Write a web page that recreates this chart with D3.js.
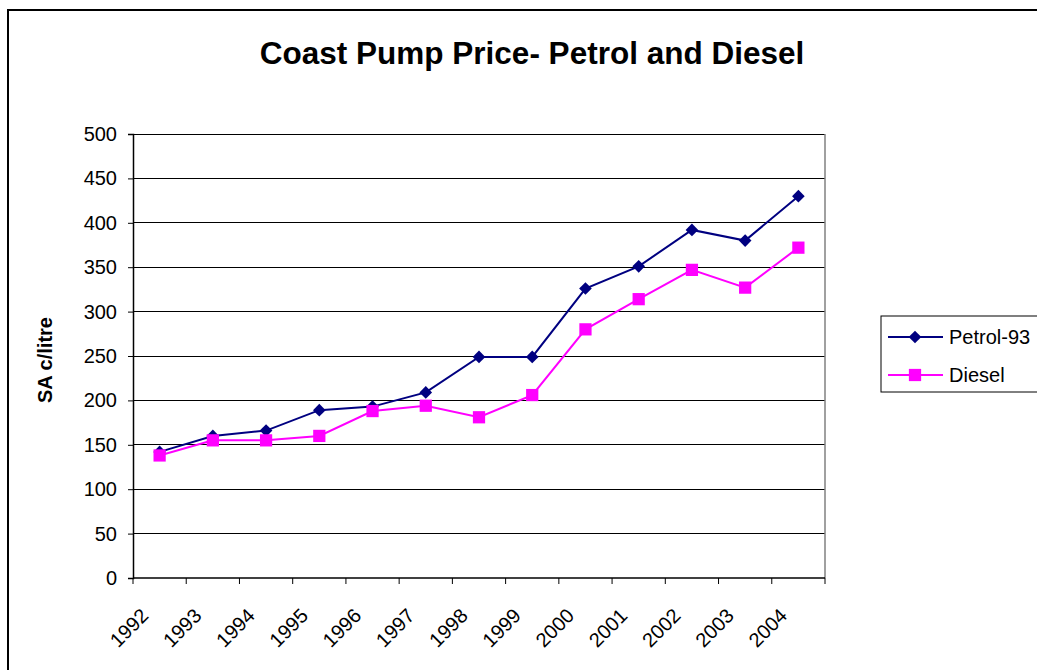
<!DOCTYPE html>
<html>
<head>
<meta charset="utf-8">
<script src="https://cdn.jsdelivr.net/npm/d3@7"></script>
<style>
  html, body { margin: 0; padding: 0; background: #fff; }
  svg { display: block; font-family: "Liberation Sans", Arial, sans-serif; }
</style>
</head>
<body>
<div id="chart"></div>
<script>
// Données
const years = ['1992', '1993', '1994', '1995', '1996', '1997', '1998', '1999', '2000', '2001', '2002', '2003', '2004'];
const petrol = [142, 160, 166, 189, 193, 209, 249, 249, 326, 351, 392, 380, 430];
const diesel = [138, 155, 155, 160, 188, 194, 181, 206, 280, 314, 347, 327, 372];
const yTicks = [0, 50, 100, 150, 200, 250, 300, 350, 400, 450, 500];
const seriesNames = ['Petrol-93', 'Diesel'];

const width = 1037, height = 670;
const plot = { left: 133, right: 825, top: 134, bottom: 578 };

const svg = d3.select('#chart').append('svg')
    .attr('width', width)
    .attr('height', height);

// Cadre extérieur
svg.append('rect')
    .attr('x', 8).attr('y', 10)
    .attr('width', 1200).attr('height', 800)
    .attr('fill', '#fff')
    .attr('stroke', '#000')
    .attr('stroke-width', 2);

// Titre
svg.append('text')
    .attr('x', 532).attr('y', 64)
    .attr('text-anchor', 'middle')
    .style('font-size', '31.5px')
    .style('font-weight', 'bold')
    .text('Coast Pump Price- Petrol and Diesel');

// Échelles
const x = d3.scaleBand().domain(years).range([plot.left, plot.right]);
const y = d3.scaleLinear().domain([0, 500]).range([plot.bottom, plot.top]);
const cx = d => x(d) + x.bandwidth() / 2;

// Lignes de grille
svg.append('g')
    .selectAll('line')
    .data(yTicks.filter(t => t > 0))
    .enter()
    .append('line')
    .attr('x1', plot.left).attr('x2', plot.right)
    .attr('y1', d => y(d)).attr('y2', d => y(d))
    .attr('stroke', '#000')
    .attr('stroke-width', 1)
    .attr('shape-rendering', 'crispEdges');

// Bord droit de la zone de tracé
svg.append('line')
    .attr('x1', plot.right).attr('x2', plot.right)
    .attr('y1', plot.top).attr('y2', plot.bottom)
    .attr('stroke', '#808080')
    .attr('stroke-width', 1.5);

// Axe Y
const yAxis = svg.append('g')
    .attr('transform', `translate(${plot.left},0)`)
    .call(d3.axisLeft(y).tickValues(yTicks).tickSize(5).tickPadding(11));
yAxis.select('.domain').attr('stroke', '#000').attr('stroke-width', 1.5);
yAxis.selectAll('.tick line').attr('stroke', '#000');
yAxis.selectAll('.tick text')
    .attr('fill', '#000')
    .style('font-size', '20px')
    .style('font-family', '"Liberation Sans", Arial, sans-serif');

// Axe X (graduations aux limites des catégories)
const xAxis = svg.append('g')
    .attr('transform', `translate(0,${plot.bottom})`);
xAxis.append('line')
    .attr('x1', plot.left).attr('x2', plot.right)
    .attr('y1', 0).attr('y2', 0)
    .attr('stroke', '#000').attr('stroke-width', 1.5);
const bounds = years.map(d => x(d)).concat([plot.right]);
xAxis.selectAll('line.tick')
    .data(bounds)
    .enter()
    .append('line')
    .attr('class', 'tick')
    .attr('x1', d => d).attr('x2', d => d)
    .attr('y1', 0).attr('y2', 6)
    .attr('stroke', '#000');
xAxis.selectAll('text')
    .data(years)
    .enter()
    .append('text')
    .attr('transform', d => `translate(${cx(d) - 10},39) rotate(-45)`)
    .attr('text-anchor', 'end')
    .style('font-size', '20px')
    .text(d => d);

// Titre de l'axe Y
svg.append('text')
    .attr('transform', `translate(52,360) rotate(-90)`)
    .attr('text-anchor', 'middle')
    .style('font-size', '20px')
    .style('font-weight', 'bold')
    .text('SA c/litre');

// Séries (losange = carré tourné de 45°)
const series = [
    { name: seriesNames[0], values: petrol, color: '#000080', shape: d3.symbolSquare, size: 80, rot: 45 },
    { name: seriesNames[1], values: diesel, color: '#FF00FF', shape: d3.symbolSquare, size: 150, rot: 0 }
];

const line = d3.line()
    .x((d, i) => cx(years[i]))
    .y(d => y(d));

series.forEach(s => {
    svg.append('path')
        .datum(s.values)
        .attr('d', line)
        .attr('fill', 'none')
        .attr('stroke', s.color)
        .attr('stroke-width', 2);

    svg.append('g')
        .selectAll('path')
        .data(s.values)
        .enter()
        .append('path')
        .attr('d', d3.symbol().type(s.shape).size(s.size))
        .attr('transform', (d, i) => `translate(${cx(years[i])},${y(d)}) rotate(${s.rot})`)
        .attr('fill', s.color);
});

// Légende
const legend = svg.append('g');
legend.append('rect')
    .attr('x', 881).attr('y', 316)
    .attr('width', 200).attr('height', 76)
    .attr('fill', '#fff')
    .attr('stroke', '#000')
    .attr('stroke-width', 1);

const items = legend.selectAll('g.item')
    .data(series)
    .enter()
    .append('g')
    .attr('class', 'item')
    .attr('transform', (d, i) => `translate(0,${337 + i * 38})`);
items.append('line')
    .attr('x1', 888).attr('x2', 943)
    .attr('y1', 0).attr('y2', 0)
    .attr('stroke', d => d.color)
    .attr('stroke-width', 2);
items.append('path')
    .attr('d', d => d3.symbol().type(d.shape).size(d.size)())
    .attr('transform', d => `translate(915,0) rotate(${d.rot})`)
    .attr('fill', d => d.color);
items.append('text')
    .attr('x', 949).attr('y', 7)
    .style('font-size', '20px')
    .text(d => d.name);
</script>
</body>
</html>
